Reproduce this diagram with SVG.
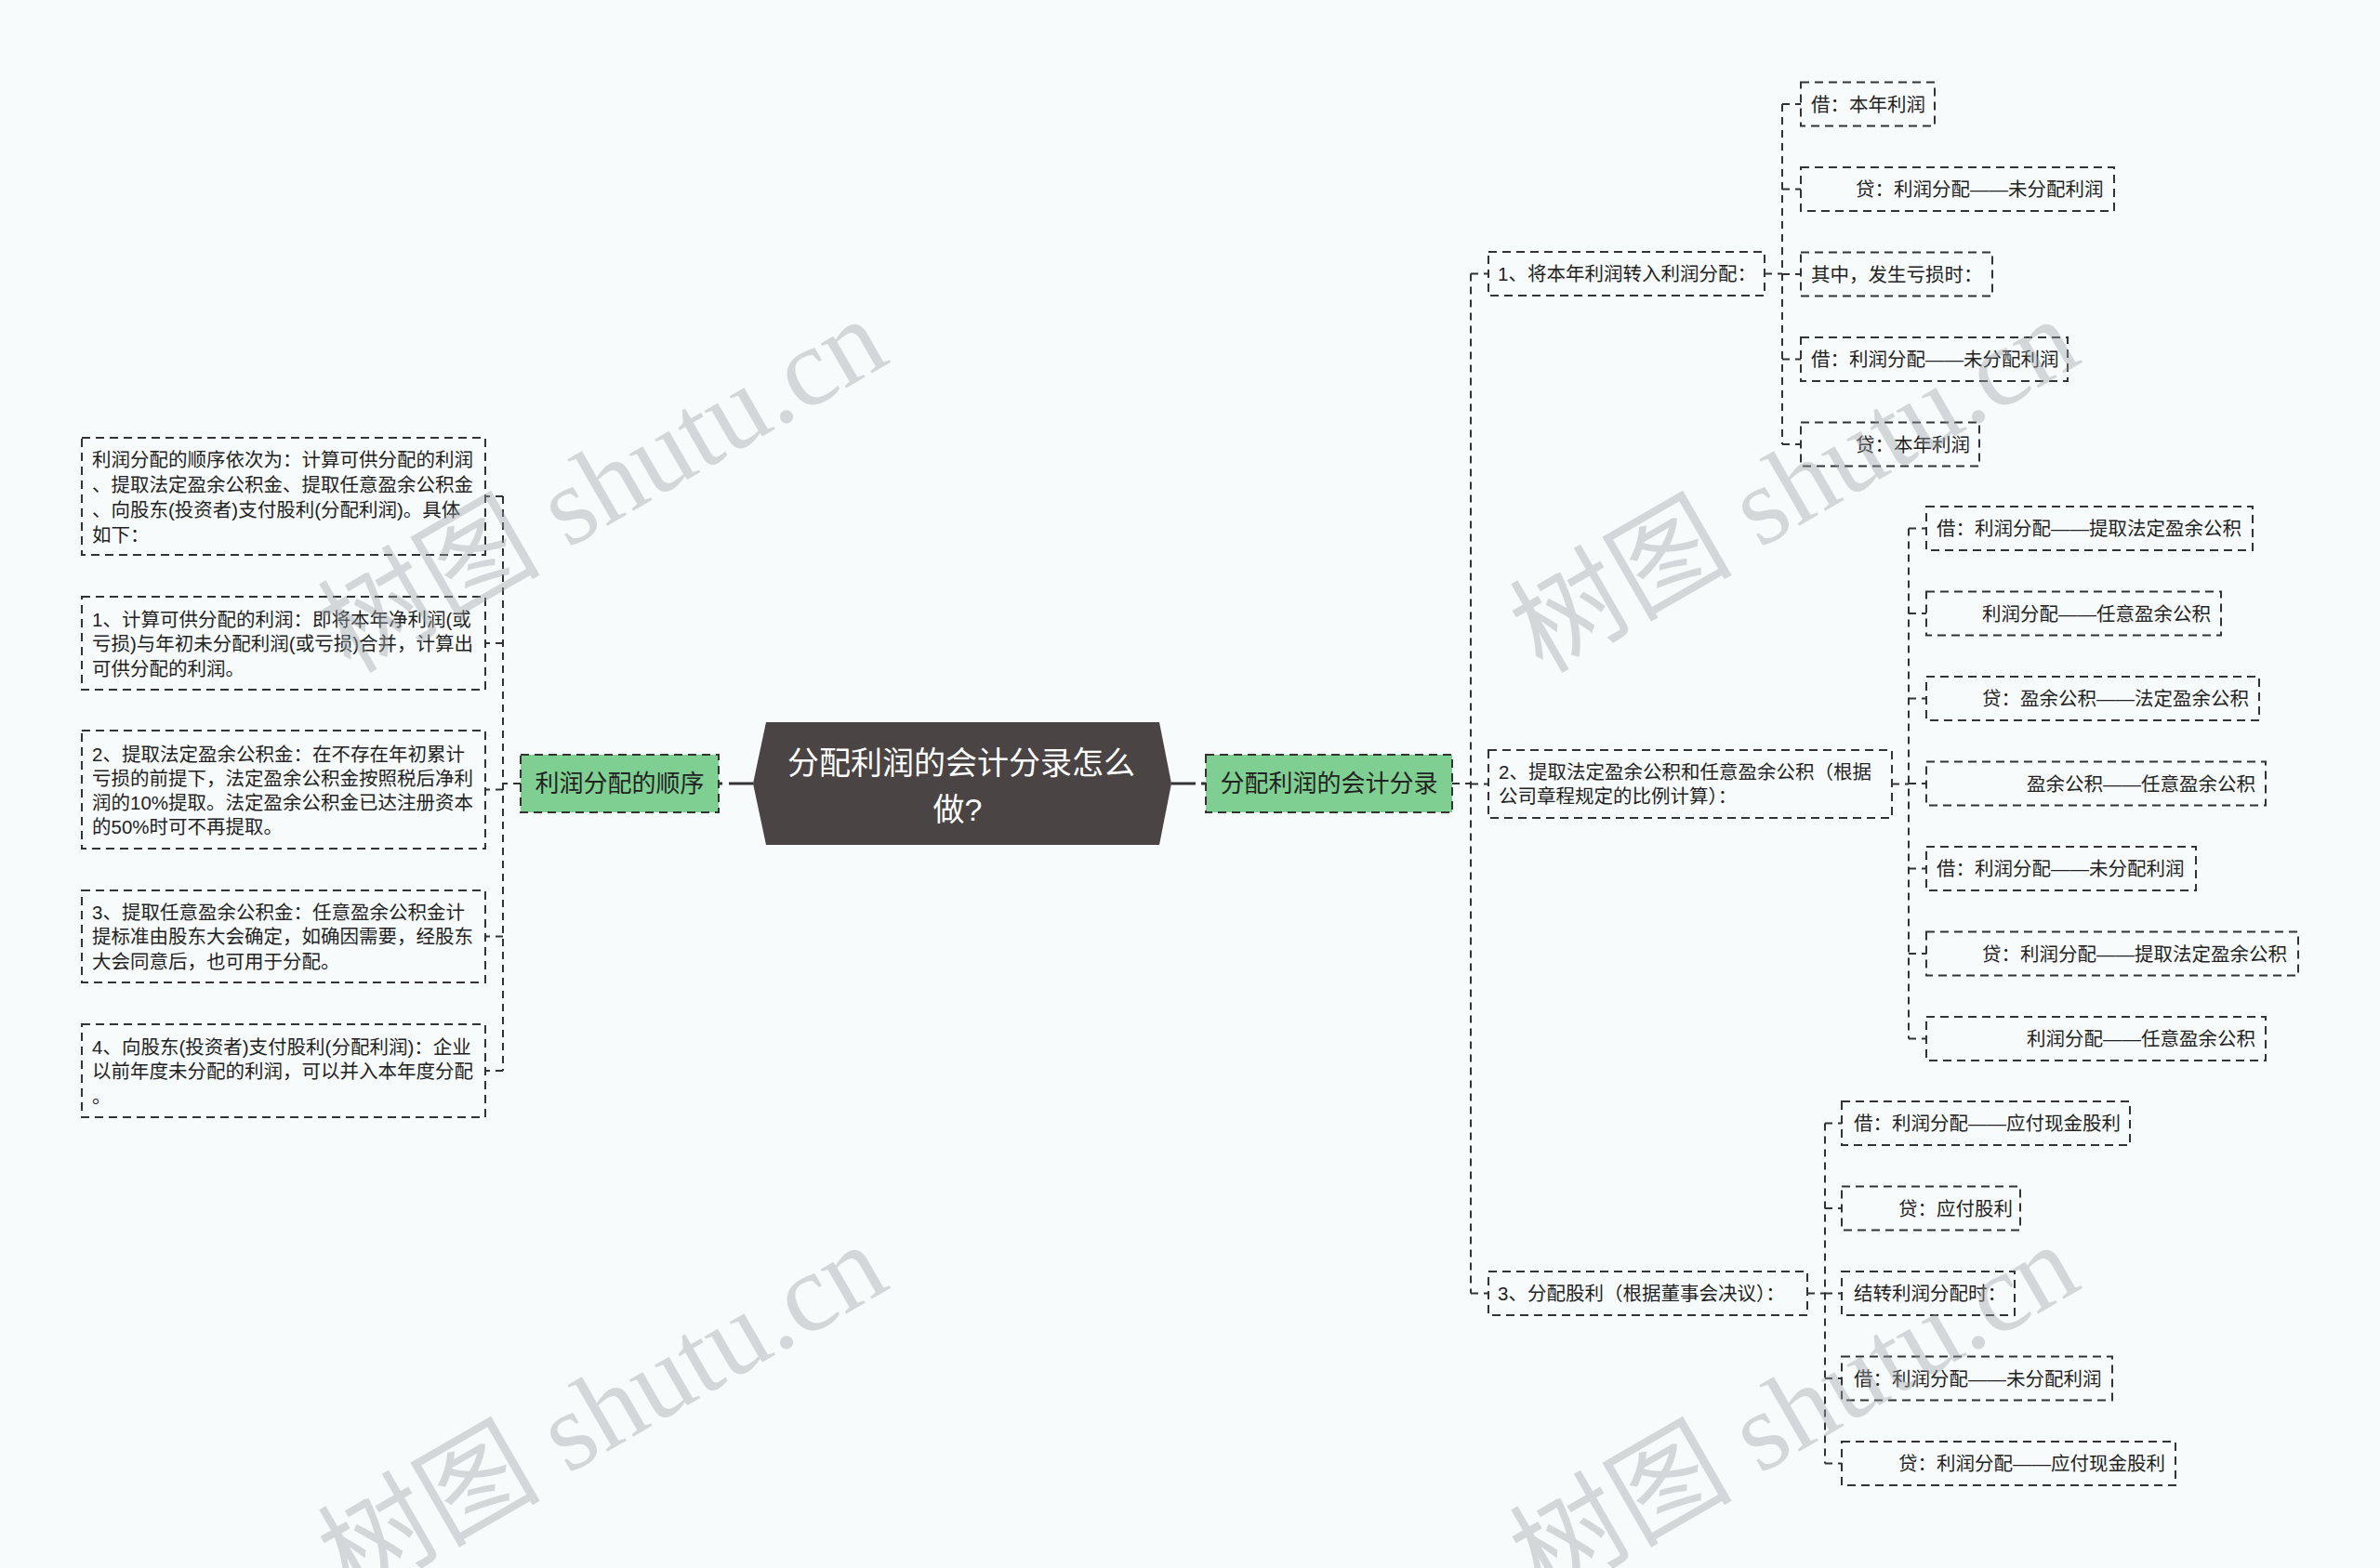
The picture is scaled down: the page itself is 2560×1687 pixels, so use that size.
<svg xmlns="http://www.w3.org/2000/svg" width="2560" height="1687" viewBox="0 0 2560 1687">
<style>
.bg{fill:#f8fbfc}
.box{fill:none;stroke:#333;stroke-width:2;stroke-dasharray:9 6}
.gbox{fill:#80cf92;stroke:#333;stroke-width:2;stroke-dasharray:9 6}
.t{font-family:'Liberation Sans','Noto Sans CJK SC',sans-serif;font-size:20.5px;fill:#222}
.gt{font-family:'Liberation Sans','Noto Sans CJK SC',sans-serif;font-size:26px;fill:#222;text-anchor:middle}
.ct{font-family:'Liberation Sans','Noto Sans CJK SC',sans-serif;font-size:34px;fill:#fff;text-anchor:middle}
.c{fill:none;stroke:#333;stroke-width:2;stroke-dasharray:8 6}
.cs{fill:none;stroke:#333;stroke-width:3}
.wm{font-family:'Liberation Serif','Noto Sans CJK SC',serif;font-size:120px;fill:#9aa3a8;fill-opacity:0.4;text-anchor:middle;dominant-baseline:central}
</style>
<rect class="bg" x="0" y="0" width="2560" height="1687"/>

<g id="connectors">
  <path class="cs" d="M810,843 H784"/>
  <path class="cs" d="M777,843 H773"/>
  <path class="cs" d="M1260,843 H1286"/>
  <path class="cs" d="M1292,843 H1297"/>
  <!-- left spine -->
  <path class="c" d="M560,843 H541"/>
  <path class="c" d="M541,534 V1152"/>
  <path class="c" d="M541,534 H522 M541,692 H522 M541,849.5 H522 M541,1007.5 H522 M541,1152 H522"/>
  <!-- right main spine -->
  <path class="c" d="M1562,843 H1582"/>
  <path class="c" d="M1582,294.5 V1391.5"/>
  <path class="c" d="M1582,294.5 H1601 M1582,843.5 H1601 M1582,1391.5 H1601"/>
  <!-- node1 spine -->
  <path class="c" d="M1898,294.5 H1917"/>
  <path class="c" d="M1917,112 V478"/>
  <path class="c" d="M1917,112 H1937 M1917,203.5 H1937 M1917,295 H1937 M1917,386.5 H1937 M1917,478 H1937"/>
  <!-- node2 spine -->
  <path class="c" d="M2035,843.5 H2053"/>
  <path class="c" d="M2053,568.5 V1117.5"/>
  <path class="c" d="M2053,568.5 H2072 M2053,660 H2072 M2053,751.5 H2072 M2053,843 H2072 M2053,934.5 H2072 M2053,1026 H2072 M2053,1117.5 H2072"/>
  <!-- node3 spine -->
  <path class="c" d="M1944,1391.5 H1963"/>
  <path class="c" d="M1963,1208.5 V1574.5"/>
  <path class="c" d="M1963,1208.5 H1981 M1963,1300 H1981 M1963,1391.5 H1981 M1963,1483 H1981 M1963,1574.5 H1981"/>
</g>

<g id="root">
  <polygon points="824,777 1247,777 1260,843 1247,909 824,909 810,843" fill="#4a4444"/>
  <text class="ct" x="1034" y="833">分配利润的会计分录怎么</text>
  <text class="ct" x="1030" y="883">做?</text>
</g>

<g id="left-main">
  <rect class="gbox" x="560" y="812" width="213" height="62"/>
  <text class="gt" x="666.5" y="852">利润分配的顺序</text>
</g>
<g id="right-main">
  <rect class="gbox" x="1297" y="812" width="265" height="62"/>
  <text class="gt" x="1429.5" y="852">分配利润的会计分录</text>
</g>

<g id="l1">
  <rect class="box" x="88" y="471" width="434" height="126"/>
  <text class="t" x="99" y="502">利润分配的顺序依次为：计算可供分配的利润</text>
  <text class="t" x="99" y="529">、提取法定盈余公积金、提取任意盈余公积金</text>
  <text class="t" x="99" y="556">、向股东(投资者)支付股利(分配利润)。具体</text>
  <text class="t" x="99" y="583">如下：</text>
</g>
<g id="l2">
  <rect class="box" x="88" y="642" width="434" height="100"/>
  <text class="t" x="99" y="674">1、计算可供分配的利润：即将本年净利润(或</text>
  <text class="t" x="99" y="700">亏损)与年初未分配利润(或亏损)合并，计算出</text>
  <text class="t" x="99" y="727">可供分配的利润。</text>
</g>
<g id="l3">
  <rect class="box" x="88" y="786" width="434" height="127"/>
  <text class="t" x="99" y="819">2、提取法定盈余公积金：在不存在年初累计</text>
  <text class="t" x="99" y="845">亏损的前提下，法定盈余公积金按照税后净利</text>
  <text class="t" x="99" y="871">润的10%提取。法定盈余公积金已达注册资本</text>
  <text class="t" x="99" y="897">的50%时可不再提取。</text>
</g>
<g id="l4">
  <rect class="box" x="88" y="958" width="434" height="99"/>
  <text class="t" x="99" y="989">3、提取任意盈余公积金：任意盈余公积金计</text>
  <text class="t" x="99" y="1015">提标准由股东大会确定，如确因需要，经股东</text>
  <text class="t" x="99" y="1042">大会同意后，也可用于分配。</text>
</g>
<g id="l5">
  <rect class="box" x="88" y="1102" width="434" height="100"/>
  <text class="t" x="99" y="1134">4、向股东(投资者)支付股利(分配利润)：企业</text>
  <text class="t" x="99" y="1160">以前年度未分配的利润，可以并入本年度分配</text>
  <text class="t" x="99" y="1187">。</text>
</g>

<g id="r1">
  <rect class="box" x="1601" y="271" width="297" height="47"/>
  <text class="t" x="1611" y="302">1、将本年利润转入利润分配：</text>
</g>
<g id="r1a">
  <rect class="box" x="1937" y="88.5" width="144" height="47"/>
  <text class="t" x="1948" y="119.5">借：本年利润</text>
</g>
<g id="r1b">
  <rect class="box" x="1937" y="180" width="337" height="47"/>
  <text class="t" x="1996" y="211">贷：利润分配——未分配利润</text>
</g>
<g id="r1c">
  <rect class="box" x="1937" y="271.5" width="206" height="47"/>
  <text class="t" x="1948" y="302.5">其中，发生亏损时：</text>
</g>
<g id="r1d">
  <rect class="box" x="1937" y="363" width="287" height="47"/>
  <text class="t" x="1948" y="394">借：利润分配——未分配利润</text>
</g>
<g id="r1e">
  <rect class="box" x="1937" y="454.5" width="192" height="47"/>
  <text class="t" x="1996" y="485.5">贷：本年利润</text>
</g>

<g id="r2">
  <rect class="box" x="1601" y="807" width="434" height="73"/>
  <text class="t" x="1612" y="837.5">2、提取法定盈余公积和任意盈余公积（根据</text>
  <text class="t" x="1612" y="864">公司章程规定的比例计算）：</text>
</g>
<g id="r2a">
  <rect class="box" x="2072" y="545" width="351" height="47"/>
  <text class="t" x="2083" y="576">借：利润分配——提取法定盈余公积</text>
</g>
<g id="r2b">
  <rect class="box" x="2072" y="636.5" width="317" height="47"/>
  <text class="t" x="2132" y="667.5">利润分配——任意盈余公积</text>
</g>
<g id="r2c">
  <rect class="box" x="2072" y="728" width="358" height="47"/>
  <text class="t" x="2132" y="759">贷：盈余公积——法定盈余公积</text>
</g>
<g id="r2d">
  <rect class="box" x="2072" y="819.5" width="365" height="47"/>
  <text class="t" x="2180" y="850.5">盈余公积——任意盈余公积</text>
</g>
<g id="r2e">
  <rect class="box" x="2072" y="911" width="290" height="47"/>
  <text class="t" x="2083" y="942">借：利润分配——未分配利润</text>
</g>
<g id="r2f">
  <rect class="box" x="2072" y="1002.5" width="400" height="47"/>
  <text class="t" x="2132" y="1033.5">贷：利润分配——提取法定盈余公积</text>
</g>
<g id="r2g">
  <rect class="box" x="2072" y="1094" width="365" height="47"/>
  <text class="t" x="2180" y="1125">利润分配——任意盈余公积</text>
</g>

<g id="r3">
  <rect class="box" x="1601" y="1368" width="343" height="47"/>
  <text class="t" x="1611" y="1399">3、分配股利（根据董事会决议）：</text>
</g>
<g id="r3a">
  <rect class="box" x="1981" y="1185" width="310" height="47"/>
  <text class="t" x="1994" y="1216">借：利润分配——应付现金股利</text>
</g>
<g id="r3b">
  <rect class="box" x="1981" y="1276.5" width="192" height="47"/>
  <text class="t" x="2042" y="1307.5">贷：应付股利</text>
</g>
<g id="r3c">
  <rect class="box" x="1981" y="1368" width="186" height="47"/>
  <text class="t" x="1994" y="1399">结转利润分配时：</text>
</g>
<g id="r3d">
  <rect class="box" x="1981" y="1459.5" width="291" height="47"/>
  <text class="t" x="1994" y="1490.5">借：利润分配——未分配利润</text>
</g>
<g id="r3e">
  <rect class="box" x="1981" y="1551" width="359" height="47"/>
  <text class="t" x="2042" y="1582">贷：利润分配——应付现金股利</text>
</g>

<g id="watermark">
  <text class="wm" transform="translate(648,522) rotate(-30)">树图 shutu.cn</text>
  <text class="wm" transform="translate(1930,522) rotate(-30)">树图 shutu.cn</text>
  <text class="wm" transform="translate(648,1518) rotate(-30)">树图 shutu.cn</text>
  <text class="wm" transform="translate(1930,1518) rotate(-30)">树图 shutu.cn</text>
</g>
</svg>
